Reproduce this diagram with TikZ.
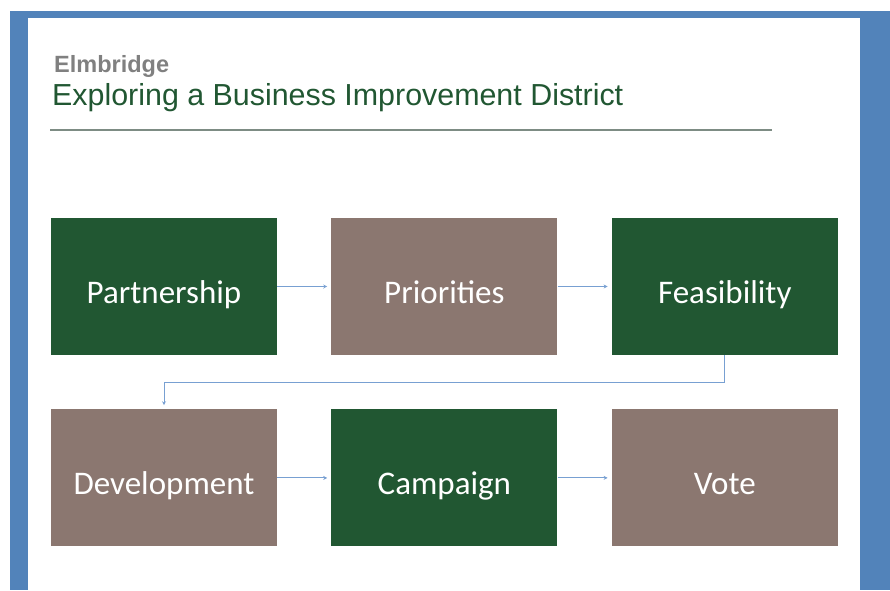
\documentclass[tikz,border=0pt]{standalone}
\usepackage{fontspec}
\setmainfont{Liberation Sans}
\newfontfamily\boxfont{Carlito}
\usetikzlibrary{arrows.meta, positioning}
\definecolor{bidgreen}{RGB}{33,87,50}
\definecolor{bidtaupe}{RGB}{139,119,112}
\definecolor{bidblue}{RGB}{82,131,186}
\definecolor{linkblue}{RGB}{120,160,210}
\definecolor{rulegrey}{RGB}{125,140,132}
\tikzset{
  stage/.style={rectangle, fill=bidgreen, text=white,
                minimum width=226pt, minimum height=137pt, inner sep=0pt,
                text height=33pt, text depth=0pt,
                font=\boxfont\fontsize{33}{40}\selectfont},
  stageT/.style={stage, fill=bidtaupe},
  arrow/.style={-{Stealth[length=4pt,width=4pt]}, line width=0.9pt,
                draw=linkblue, shorten >=4pt},
}

\begin{document}
\begin{tikzpicture}[
  x=1pt, y=-1pt,
  heading/.style={anchor=base west, inner sep=0pt},
  node distance=54pt and 54pt
]

  % slide frame
  \useasboundingbox (0,0) rectangle (890,590);
  \fill[bidblue] (10,11) rectangle (890,590);
  \fill[white] (28,18) rectangle (860,590);

  % heading
  \node[heading, text=gray, font=\bfseries\fontsize{23.5}{28}\selectfont]
    (org) at (54,72) {Elmbridge};
  \node[heading, text=bidgreen, font=\fontsize{30.4}{36}\selectfont]
    (title) at (52,105) {Exploring a Business Improvement District};
  \draw[rulegrey, line width=1.2pt] (50,130) -- (772,130);

  \node[stage]  (partner)    at (164,286.5) {Partnership};
  \node[stageT, right=of partner]    (priorities) {Priorities};
  \node[stage,  right=of priorities] (feas)       {Feasibility};
  \node[stageT, below=of partner]    (devel)      {Development};
  \node[stage,  right=of devel]      (campaign)   {Campaign};
  \node[stageT, right=of campaign]   (vote)       {Vote};

  \draw[arrow] (partner)    -- (priorities);
  \draw[arrow] (priorities) -- (feas);
  \draw[arrow] (feas.south) -- ++(0,27) -| (devel.north);
  \draw[arrow] (devel)      -- (campaign);
  \draw[arrow] (campaign)   -- (vote);

\end{tikzpicture}
\end{document}
